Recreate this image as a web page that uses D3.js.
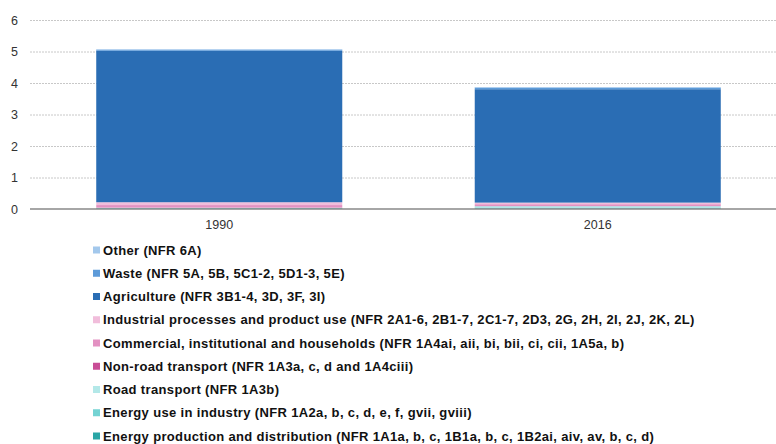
<!DOCTYPE html>
<html><head><meta charset="utf-8">
<script src="https://cdn.jsdelivr.net/npm/d3@7"></script>
<style>body{margin:0;background:#fff}svg{display:block}</style>
</head><body>
<svg id="c" width="776" height="444"></svg>
<script>
const categories = ["1990", "2016"];
const seriesNames = [
  "Energy production and distribution (NFR 1A1a, b, c, 1B1a, b, c, 1B2ai, aiv, av, b, c, d)",
  "Energy use in industry (NFR 1A2a, b, c, d, e, f, gvii, gviii)",
  "Road transport (NFR 1A3b)",
  "Non-road transport (NFR 1A3a, c, d and 1A4ciii)",
  "Commercial, institutional and households (NFR 1A4ai, aii, bi, bii, ci, cii, 1A5a, b)",
  "Industrial processes and product use (NFR 2A1-6, 2B1-7, 2C1-7, 2D3, 2G, 2H, 2I, 2J, 2K, 2L)",
  "Agriculture (NFR 3B1-4, 3D, 3F, 3I)",
  "Waste (NFR 5A, 5B, 5C1-2, 5D1-3, 5E)",
  "Other (NFR 6A)"
];
const energyProduction = [0.02, 0.02];
const energyIndustry   = [0.01, 0.03];
const roadTransport    = [0.01, 0.04];
const nonRoadTransport = [0.005, 0.003];
const commercial       = [0.08, 0.06];
const industrial       = [0.09, 0.05];
const agriculture      = [4.81, 3.60];
const waste            = [0.03, 0.05];
const other            = [0.02, 0.02];
const yTicks = [0, 1, 2, 3, 4, 5, 6];
const colors = ["#2aa6a6", "#74d3d3", "#b3e8e8", "#c94d96", "#e391c2", "#f1bddb", "#2a6db4", "#5d9bd9", "#a3c8ec"];

const seriesValues = [energyProduction, energyIndustry, roadTransport, nonRoadTransport, commercial, industrial, agriculture, waste, other];
const rows = categories.map((c, i) => {
  const r = {cat: c};
  seriesNames.forEach((n, k) => r[n] = seriesValues[k][i]);
  return r;
});
const stack = d3.stack().keys(seriesNames)(rows);

const svg = d3.select("#c");
const x = d3.scaleBand().domain(categories).range([30, 787]).paddingInner(0.35).paddingOuter(0.175);
const y = d3.scaleLinear().domain([0, 6]).range([209, 20]);

// gridlines
svg.append("g").selectAll("line").data(yTicks.filter(t => t > 0)).join("line")
  .attr("x1", 30).attr("x2", 776)
  .attr("y1", d => y(d) + 0.5).attr("y2", d => y(d) + 0.5)
  .attr("stroke", "#c8c8c8").attr("stroke-width", 1).attr("stroke-dasharray", "2,1");

// y axis labels
const yAxis = d3.axisLeft(y).tickValues(yTicks).tickSize(0).tickPadding(0).tickFormat(d3.format("d"));
const ya = svg.append("g").attr("transform", "translate(18,0)").call(yAxis);
ya.select(".domain").remove();
ya.selectAll("text").attr("font-family", "Liberation Sans, Arial, sans-serif").attr("font-size", 12.5).attr("fill", "#333");

// bars
svg.append("g").selectAll("g").data(stack).join("g")
  .attr("fill", (d, i) => colors[i])
  .selectAll("rect").data(d => d).join("rect")
  .attr("x", d => x(d.data.cat))
  .attr("width", x.bandwidth())
  .attr("y", d => y(d[1]))
  .attr("height", d => y(d[0]) - y(d[1]));

// baseline
svg.append("line").attr("x1", 30).attr("x2", 776).attr("y1", 209).attr("y2", 209)
  .attr("stroke", "#888").attr("stroke-width", 1.5);

// x axis labels
const xAxis = d3.axisBottom(x).tickSize(0).tickPadding(0);
const xa = svg.append("g").attr("transform", "translate(0,220)").call(xAxis);
xa.select(".domain").remove();
xa.selectAll("text").attr("font-family", "Liberation Sans, Arial, sans-serif").attr("font-size", 12.5).attr("fill", "#333");

// legend (reverse order)
const legendItems = seriesNames.map((n, i) => ({n, c: colors[i]})).reverse();
const lg = svg.append("g").selectAll("g").data(legendItems).join("g")
  .attr("transform", (d, i) => `translate(93,${250 + i * 23.25})`);
lg.append("rect").attr("x", 0).attr("y", -3.5).attr("width", 7).attr("height", 7).attr("fill", d => d.c);
lg.append("text").attr("x", 10).attr("y", 0).attr("dy", "0.35em")
  .attr("font-family", "Liberation Sans, Arial, sans-serif").attr("font-size", 13).attr("font-weight", "bold")
  .attr("letter-spacing", "0.35px")
  .attr("fill", "#111").text(d => d.n);
</script>
</body></html>
